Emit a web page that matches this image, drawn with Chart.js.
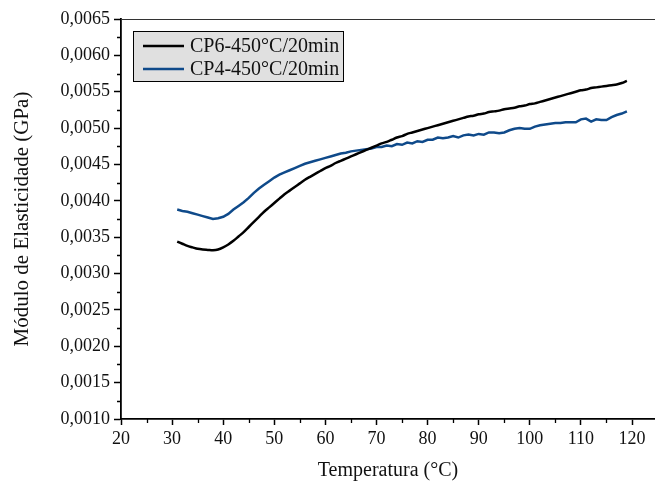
<!DOCTYPE html>
<html>
<head>
<meta charset="utf-8">
<script src="https://cdn.jsdelivr.net/npm/chart.js@4/dist/chart.umd.min.js"></script>
<style>
  html, body { margin: 0; padding: 0; background: #fff; overflow: hidden; }
  #wrap { width: 655px; height: 485px; position: relative; }
</style>
</head>
<body>
<div id="wrap"><canvas id="grafico"></canvas></div>
<script>
// temperature (°C)
const temperatura = [31, 32, 33, 34, 35, 36, 37, 38, 39, 40,
  41, 42, 43, 44, 45, 46, 47, 48, 49, 50,
  51, 52, 53, 54, 55, 56, 57, 58, 59, 60,
  61, 62, 63, 64, 65, 66, 67, 68, 69, 70,
  71, 72, 73, 74, 75, 76, 77, 78, 79, 80,
  81, 82, 83, 84, 85, 86, 87, 88, 89, 90,
  91, 92, 93, 94, 95, 96, 97, 98, 99, 100,
  101, 102, 103, 104, 105, 106, 107, 108, 109, 110,
  111, 112, 113, 114, 115, 116, 117, 118, 119];

// Módulo de Elasticidade (GPa)
const moduloCP6 = [0.00344, 0.00341, 0.00338, 0.00336, 0.00334, 0.00333, 0.003325, 0.00332, 0.00333, 0.00336,
  0.00340, 0.00345, 0.00351, 0.00357, 0.00364, 0.00371, 0.00378, 0.00385, 0.00391, 0.00397,
  0.00403, 0.00409, 0.00414, 0.00419, 0.00424, 0.00429, 0.00433, 0.00437, 0.00441, 0.00445,
  0.00448, 0.00452, 0.00455, 0.00458, 0.00461, 0.00464, 0.00467, 0.00470, 0.00473, 0.00476,
  0.00479, 0.00481, 0.00484, 0.00487, 0.00489, 0.00492, 0.00494, 0.00496, 0.00498, 0.00500,
  0.00502, 0.00504, 0.00506, 0.00508, 0.00510, 0.00512, 0.00514, 0.00516, 0.00517, 0.00519,
  0.00520, 0.00522, 0.00523, 0.00524, 0.00526, 0.00527, 0.00528, 0.00530, 0.00531, 0.00533,
  0.00534, 0.00536, 0.00538, 0.00540, 0.00542, 0.00544, 0.00546, 0.00548, 0.00550, 0.00552,
  0.00553, 0.00555, 0.00556, 0.00557, 0.00558, 0.00559, 0.00560, 0.00562, 0.00565];

const moduloCP4 = [0.00388, 0.00386, 0.00385, 0.00383, 0.00381, 0.00379, 0.00377, 0.00375, 0.00376, 0.00378,
  0.00382, 0.00388, 0.00393, 0.00398, 0.00404, 0.00411, 0.00417, 0.00422, 0.00427, 0.00432,
  0.00436, 0.00439, 0.00442, 0.00445, 0.00448, 0.00451, 0.00453, 0.00455, 0.00457, 0.00459,
  0.00461, 0.00463, 0.00465, 0.00466, 0.00468, 0.00469, 0.00470, 0.00471, 0.00472, 0.00474,
  0.00474, 0.00476, 0.00475, 0.00478, 0.00477, 0.00480, 0.00479, 0.00482, 0.00481, 0.00484,
  0.00484, 0.00487, 0.00486, 0.00487, 0.00489, 0.00487, 0.00490, 0.00491, 0.00490, 0.00492,
  0.00491, 0.00494, 0.00494, 0.00493, 0.00494, 0.00497, 0.00499, 0.00500, 0.00499, 0.00499,
  0.00502, 0.00504, 0.00505, 0.00506, 0.00507, 0.00507, 0.00508, 0.00508, 0.00508, 0.00512,
  0.00513, 0.00509, 0.00512, 0.00511, 0.00511, 0.00515, 0.00518, 0.00520, 0.00523];

const series = ["CP6-450°C/20min", "CP4-450°C/20min"];
const cores = ["#000000", "#0f4a8a"];

const fonte = "'Liberation Serif', 'Times New Roman', serif";

// minor ticks, top frame line and the boxed legend inside the plot
const extras = {
  id: "extras",
  afterDraw(chart) {
    const ctx = chart.ctx;
    const area = chart.chartArea;
    const sx = chart.scales.x;
    const sy = chart.scales.y;
    ctx.save();
    ctx.strokeStyle = "#000";
    ctx.lineWidth = 1.3;
    ctx.beginPath();
    for (let k = 0; ; k++) {
      const v = sx.min + 5 + k * 10;
      if (v > sx.max) break;
      const px = Math.round(sx.getPixelForValue(v)) + 0.5;
      ctx.moveTo(px, area.bottom);
      ctx.lineTo(px, area.bottom + 4);
    }
    for (let k = 0; ; k++) {
      const v = sy.min + 0.00025 + k * 0.0005;
      if (v > sy.max) break;
      const py = Math.round(sy.getPixelForValue(v)) + 0.5;
      ctx.moveTo(area.left, py);
      ctx.lineTo(area.left - 4, py);
    }
    ctx.stroke();

    // top frame
    ctx.strokeStyle = "#333";
    ctx.lineWidth = 1;
    ctx.beginPath();
    ctx.moveTo(area.left, area.top + 0.5);
    ctx.lineTo(area.right, area.top + 0.5);
    ctx.stroke();

    // legend box
    const bx = 133.5, by = 31.5, bw = 210, bh = 50;
    ctx.fillStyle = "#e0e0e0";
    ctx.fillRect(bx, by, bw, bh);
    ctx.strokeStyle = "#000";
    ctx.lineWidth = 1;
    ctx.strokeRect(bx, by, bw, bh);
    ctx.font = "20px " + fonte;
    ctx.textBaseline = "middle";
    chart.data.datasets.forEach((ds, i) => {
      const y = 46 + i * 23;
      ctx.strokeStyle = ds.borderColor;
      ctx.lineWidth = 2.5;
      ctx.beginPath();
      ctx.moveTo(143, y);
      ctx.lineTo(184, y);
      ctx.stroke();
      ctx.fillStyle = "#111";
      ctx.fillText(ds.label, 190, y + 1);
    });
    ctx.restore();
  }
};

new Chart(document.getElementById("grafico"), {
  type: "line",
  data: {
    datasets: series.map((nome, i) => ({
      label: nome,
      data: temperatura.map((t, j) => ({ x: t, y: (i === 0 ? moduloCP6 : moduloCP4)[j] })),
      borderColor: cores[i],
      borderWidth: 2.5,
      pointRadius: 0,
      tension: i === 0 ? 0.3 : 0,
      fill: false
    }))
  },
  options: {
    responsive: true,
    maintainAspectRatio: false,
    animation: false,
    layout: { padding: { top: 19, right: 0, bottom: 0, left: 0 } },
    plugins: {
      legend: { display: false },
      tooltip: { enabled: false }
    },
    scales: {
      x: {
        type: "linear",
        min: 20,
        max: 124.5,
        afterFit: (s) => { s.height = 66; },
        border: { color: "#000", width: 1.8 },
        grid: { drawOnChartArea: false, drawTicks: true, tickLength: 6, tickColor: "#000", tickWidth: 1.5 },
        ticks: {
          stepSize: 10,
          includeBounds: false,
          maxRotation: 0,
          padding: 3,
          color: "#111",
          font: { family: fonte, size: 18 }
        },
        title: {
          display: true,
          text: "Temperatura (°C)",
          color: "#111",
          font: { family: fonte, size: 20 },
          padding: { top: 0, bottom: 2 }
        }
      },
      y: {
        min: 0.001,
        max: 0.0065,
        afterFit: (s) => { s.width = 121; },
        border: { color: "#000", width: 1.8 },
        grid: { drawOnChartArea: false, drawTicks: true, tickLength: 7, tickColor: "#000", tickWidth: 1.5 },
        ticks: {
          stepSize: 0.0005,
          padding: 4,
          color: "#111",
          font: { family: fonte, size: 18 },
          callback: (v) => v.toFixed(4).replace(".", ",")
        },
        title: {
          display: true,
          text: "Módulo de Elasticidade (GPa)",
          color: "#111",
          font: { family: fonte, size: 21 },
          padding: { top: 10, bottom: 0 }
        }
      }
    }
  },
  plugins: [extras]
});
</script>
</body>
</html>
